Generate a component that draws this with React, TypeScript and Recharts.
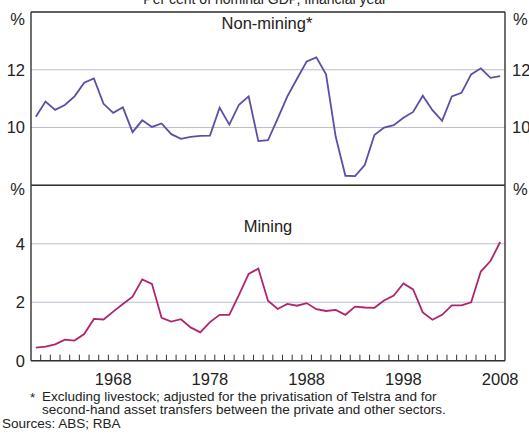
import {
	LineChart,
	Line,
	XAxis,
	YAxis,
	CartesianGrid,
	ReferenceLine,
} from "recharts";

// financial years (label = year ending)
const years = [
	1960, 1961, 1962, 1963, 1964, 1965, 1966, 1967, 1968, 1969, 1970, 1971,
	1972, 1973, 1974, 1975, 1976, 1977, 1978, 1979, 1980, 1981, 1982, 1983,
	1984, 1985, 1986, 1987, 1988, 1989, 1990, 1991, 1992, 1993, 1994, 1995,
	1996, 1997, 1998, 1999, 2000, 2001, 2002, 2003, 2004, 2005, 2006, 2007,
	2008,
];

const nonMining = [
	10.37, 10.9, 10.61, 10.78, 11.08, 11.55, 11.7, 10.82, 10.51, 10.7, 9.84,
	10.25, 10.02, 10.14, 9.77, 9.61, 9.68, 9.71, 9.72, 10.69, 10.1, 10.79,
	11.08, 9.53, 9.56, 10.31, 11.08, 11.69, 12.29, 12.43, 11.84, 9.68, 8.33,
	8.32, 8.7, 9.74, 10.0, 10.08, 10.34, 10.54, 11.1, 10.6, 10.23, 11.08, 11.2,
	11.84, 12.05, 11.72, 11.78,
];

const mining = [
	0.45, 0.48, 0.56, 0.72, 0.69, 0.91, 1.43, 1.41, 1.68, 1.94, 2.19, 2.78,
	2.63, 1.47, 1.34, 1.42, 1.14, 0.97, 1.32, 1.57, 1.57, 2.25, 2.97, 3.15,
	2.05, 1.77, 1.94, 1.88, 1.97, 1.76, 1.7, 1.74, 1.57, 1.85, 1.82, 1.81, 2.06,
	2.23, 2.64, 2.44, 1.65, 1.4, 1.57, 1.89, 1.89, 2.0, 3.05, 3.41, 4.06,
];

const yearLabels = [1968, 1978, 1988, 1998, 2008];
const topTicks = [10, 12];
const bottomTicks = [0, 2, 4];

const data = years.map((year, i) => ({
	year,
	nonMining: nonMining[i],
	mining: mining[i],
}));

// tick marks sit on the boundaries between financial years
const boundaryTicks = years.slice(1).map((y) => y - 0.5);

const FONT = "'Liberation Sans', Arial, Helvetica, sans-serif";
const TEXT = "#222";
const AXIS = "#333";
const GRID = "#b7bfc9";

function YearTick(props: any) {
	const { x, y, payload } = props;
	const v = payload.value;
	if (Number.isInteger(v)) {
		return (
			<text
				x={x}
				y={y + 24}
				textAnchor="middle"
				fontSize={16.5}
				fontFamily={FONT}
				fill={TEXT}
			>
				{v}
			</text>
		);
	}
	return <line x1={x} x2={x} y1={y} y2={y - 6} stroke={AXIS} strokeWidth={1} />;
}

const tickStyle = { fontSize: 16.5, fill: TEXT, fontFamily: FONT };

export default function App() {
	return (
		<div
			style={{
				position: "absolute",
				left: 0,
				top: 0,
				width: 529,
				height: 434,
				background: "#fff",
				fontFamily: FONT,
				overflow: "hidden",
			}}
		>
			<div style={{ position: "absolute", left: 0, top: 0 }}>
				<LineChart
					width={529}
					height={190}
					data={data}
					margin={{ top: 12, right: 0, bottom: 4.7, left: 0 }}
				>
					<CartesianGrid horizontal vertical={false} stroke={GRID} />
					<XAxis
						dataKey="year"
						type="number"
						domain={[1959.5, 2008.5]}
						hide
					/>
					<YAxis
						domain={[8, 14]}
						ticks={topTicks}
						width={31}
						tickLine={false}
						tickSize={4}
						tickMargin={2}
						axisLine={{ stroke: AXIS, strokeWidth: 1.4 }}
						tick={tickStyle}
						allowDataOverflow
					/>
					<YAxis
						yAxisId="right"
						orientation="right"
						domain={[8, 14]}
						ticks={topTicks}
						width={24}
						tickLine={false}
						tickSize={5}
						tickMargin={2}
						axisLine={{ stroke: AXIS, strokeWidth: 1.4 }}
						tick={{ ...tickStyle, textAnchor: "start" }}
						allowDataOverflow
					/>
					<ReferenceLine y={14} stroke={AXIS} strokeWidth={1.4} ifOverflow="visible" />
					<Line
						dataKey="nonMining"
						stroke="#5a4ea6"
						strokeWidth={1.8}
						dot={false}
						isAnimationActive={false}
					/>
				</LineChart>
			</div>
			<div style={{ position: "absolute", left: 0, top: 0 }}>
				<LineChart
					width={529}
					height={400}
					data={data}
					margin={{ top: 185.3, right: 0, bottom: 9.3, left: 0 }}
				>
					<CartesianGrid horizontal vertical={false} stroke={GRID} />
					<XAxis
						dataKey="year"
						type="number"
						domain={[1959.5, 2008.5]}
						ticks={[...boundaryTicks, ...yearLabels]}
						interval={0}
						height={30}
						tickSize={0}
						tickMargin={0}
						tickLine={false}
						axisLine={{ stroke: AXIS, strokeWidth: 1.4 }}
						tick={<YearTick />}
					/>
					<YAxis
						domain={[0, 6]}
						ticks={bottomTicks}
						width={31}
						tickLine={false}
						tickSize={4}
						tickMargin={2}
						axisLine={{ stroke: AXIS, strokeWidth: 1.4 }}
						tick={tickStyle}
					/>
					<YAxis
						yAxisId="right"
						orientation="right"
						domain={[0, 6]}
						ticks={bottomTicks}
						width={24}
						tickLine={false}
						tickSize={5}
						tickMargin={2}
						axisLine={{ stroke: AXIS, strokeWidth: 1.4 }}
						tick={{ ...tickStyle, textAnchor: "start" }}
					/>
					<ReferenceLine y={6} stroke={AXIS} strokeWidth={1.4} ifOverflow="visible" />
					<Line
						dataKey="mining"
						stroke="#b0246e"
						strokeWidth={1.8}
						dot={false}
						isAnimationActive={false}
					/>
				</LineChart>
			</div>
			<svg
				width={529}
				height={434}
				style={{ position: "absolute", left: 0, top: 0, pointerEvents: "none" }}
				fontFamily={FONT}
				fill={TEXT}
			>
				<text x={265} y={3.5} textAnchor="middle" fontSize={14}>
					Per cent of nominal GDP, financial year
				</text>
				<text x={267} y={29} textAnchor="middle" fontSize={16.5}>
					Non-mining*
				</text>
				<text x={268} y={232} textAnchor="middle" fontSize={16.5}>
					Mining
				</text>
				<text x={25} y={24.5} textAnchor="end" fontSize={16.5}>
					%
				</text>
				<text x={513} y={24.5} fontSize={16.5}>
					%
				</text>
				<text x={25} y={195} textAnchor="end" fontSize={16.5}>
					%
				</text>
				<text x={513} y={195} fontSize={16.5}>
					%
				</text>
				<text x={30} y={402} fontSize={13.5}>
					*
				</text>
				<text x={42} y={400.5} fontSize={13.5}>
					Excluding livestock; adjusted for the privatisation of Telstra and for
				</text>
				<text x={42} y={414} fontSize={13.5}>
					second-hand asset transfers between the private and other sectors.
				</text>
				<text x={2} y={427.5} fontSize={13.5}>
					Sources: ABS; RBA
				</text>
			</svg>
		</div>
	);
}
